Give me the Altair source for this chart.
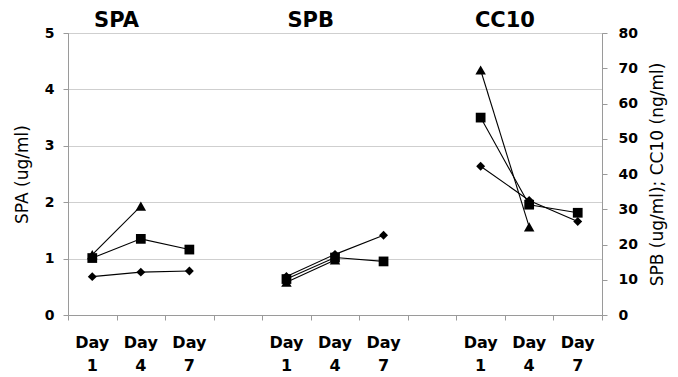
import altair as alt
import pandas as pd

# ---- data ----
groups = ["SPA", "SPB", "CC10"]
days = ["1", "4", "7"]
series = ["triangle", "square", "diamond"]
shape_names = ["triangle-up", "square", "diamond"]
shape_sizes = [110, 80, 100]

spa_triangle = [1.07, 1.93, None]
spa_square = [1.01, 1.35, 1.16]
spa_diamond = [0.68, 0.76, 0.78]

spb_triangle = [9.3, 15.6, None]
spb_square = [10.2, 16.3, 15.2]
spb_diamond = [10.9, 17.2, 22.6]

cc10_triangle = [69.5, 25.0, None]
cc10_square = [56.0, 31.3, 29.0]
cc10_diamond = [42.2, 32.5, 26.5]

values = {
    "SPA": [spa_triangle, spa_square, spa_diamond],
    "SPB": [spb_triangle, spb_square, spb_diamond],
    "CC10": [cc10_triangle, cc10_square, cc10_diamond],
}

categories = [
    "SPA Day 1", "SPA Day 4", "SPA Day 7", "gap 1",
    "SPB Day 1", "SPB Day 4", "SPB Day 7", "gap 2",
    "CC10 Day 1", "CC10 Day 4", "CC10 Day 7",
]

rows = []
for g in groups:
    for s, vals in zip(series, values[g]):
        for d, v in zip(days, vals):
            if v is None:
                continue
            rows.append({"group": g, "series": s, "cat": f"{g} Day {d}",
                         "key": f"{g}-{s}", "value": v})
df = pd.DataFrame(rows)
left_df = df[df["group"] == "SPA"]
right_df = df[df["group"] != "SPA"]

title_df = pd.DataFrame({"group": groups, "cat": [f"{g} Day 4" for g in groups]})
label_df = pd.DataFrame([
    {"cat": f"{g} Day {d}", "word": "Day", "num": d} for g in groups for d in days
])

FONT = "DejaVu Sans"
GRAY = "#9a9a9a"
H = 282

x_scale = alt.Scale(type="band", domain=categories, paddingInner=0, paddingOuter=0)
x_axis = alt.Axis(
    title=None,
    orient="bottom",
    labels=False,
    tickBand="extent",
    tickSize=5,
    tickColor=GRAY,
    domainColor=GRAY,
    grid=False,
)
x_main = alt.X("cat:N", scale=x_scale, axis=x_axis)

shape_scale = alt.Scale(domain=series, range=shape_names)
size_scale = alt.Scale(domain=series, range=shape_sizes)

left_axis = alt.Axis(
    title="SPA (ug/ml)",
    orient="left",
    values=[0, 1, 2, 3, 4, 5],
    grid=True,
    gridColor="#cfcfcf",
    labelFont=FONT,
    labelFontSize=14,
    labelFontWeight="bold",
    labelColor="black",
    labelPadding=9,
    tickSize=5,
    tickColor=GRAY,
    domainColor=GRAY,
    titleFont=FONT,
    titleFontSize=17,
    titleFontWeight="normal",
    titleColor="black",
    titleAngle=270,
    titlePadding=13,
)
right_axis = alt.Axis(
    title="SPB (ug/ml); CC10 (ng/ml)",
    orient="right",
    values=[0, 10, 20, 30, 40, 50, 60, 70, 80],
    grid=False,
    labelFont=FONT,
    labelFontSize=14,
    labelFontWeight="bold",
    labelColor="black",
    labelPadding=11,
    tickSize=5,
    tickColor=GRAY,
    domainColor=GRAY,
    titleFont=FONT,
    titleFontSize=17,
    titleFontWeight="normal",
    titleColor="black",
    titleAngle=270,
    titleBaseline="top",
    titlePadding=12,
)

left_line = alt.Chart(left_df).mark_line(color="black", strokeWidth=1.1).encode(
    x=x_main,
    y=alt.Y("value:Q", scale=alt.Scale(domain=[0, 5]), axis=left_axis),
    detail="key:N",
)
left_pts = alt.Chart(left_df).mark_point(filled=True, color="black", opacity=1).encode(
    x=x_main,
    y=alt.Y("value:Q", scale=alt.Scale(domain=[0, 5]), axis=None),
    shape=alt.Shape("series:N", scale=shape_scale, legend=None),
    size=alt.Size("series:N", scale=size_scale, legend=None),
)
right_line = alt.Chart(right_df).mark_line(color="black", strokeWidth=1.1).encode(
    x=x_main,
    y=alt.Y("value:Q", scale=alt.Scale(domain=[0, 80]), axis=right_axis),
    detail="key:N",
)
right_pts = alt.Chart(right_df).mark_point(filled=True, color="black", opacity=1).encode(
    x=x_main,
    y=alt.Y("value:Q", scale=alt.Scale(domain=[0, 80]), axis=None),
    shape=alt.Shape("series:N", scale=shape_scale, legend=None),
    size=alt.Size("series:N", scale=size_scale, legend=None),
)

titles = alt.Chart(title_df).mark_text(
    font=FONT, fontSize=21, fontWeight="bold", color="black",
    baseline="alphabetic", align="center", dy=-6,
).encode(
    x=alt.X("cat:N", scale=x_scale, axis=x_axis, bandPosition=0),
    y=alt.value(0),
    text="group:N",
)

label_words = alt.Chart(label_df).mark_text(
    font=FONT, fontSize=16, fontWeight="bold", color="black",
    baseline="alphabetic", align="center",
).encode(
    x=x_main,
    y=alt.value(H + 33),
    text="word:N",
)
label_nums = alt.Chart(label_df).mark_text(
    font=FONT, fontSize=16, fontWeight="bold", color="black",
    baseline="alphabetic", align="center",
).encode(
    x=x_main,
    y=alt.value(H + 56),
    text="num:N",
)

chart = alt.layer(
    left_line, left_pts, right_line, right_pts, titles, label_words, label_nums
).resolve_scale(
    y="independent"
).properties(
    width=534,
    height=H,
    padding={"left": 60, "top": 25, "right": 68, "bottom": 61},
    autosize=alt.AutoSizeParams(type="none"),
).configure_view(stroke=GRAY, strokeWidth=1)

chart.save("out.html", embed_options={"renderer": "svg", "actions": False})
